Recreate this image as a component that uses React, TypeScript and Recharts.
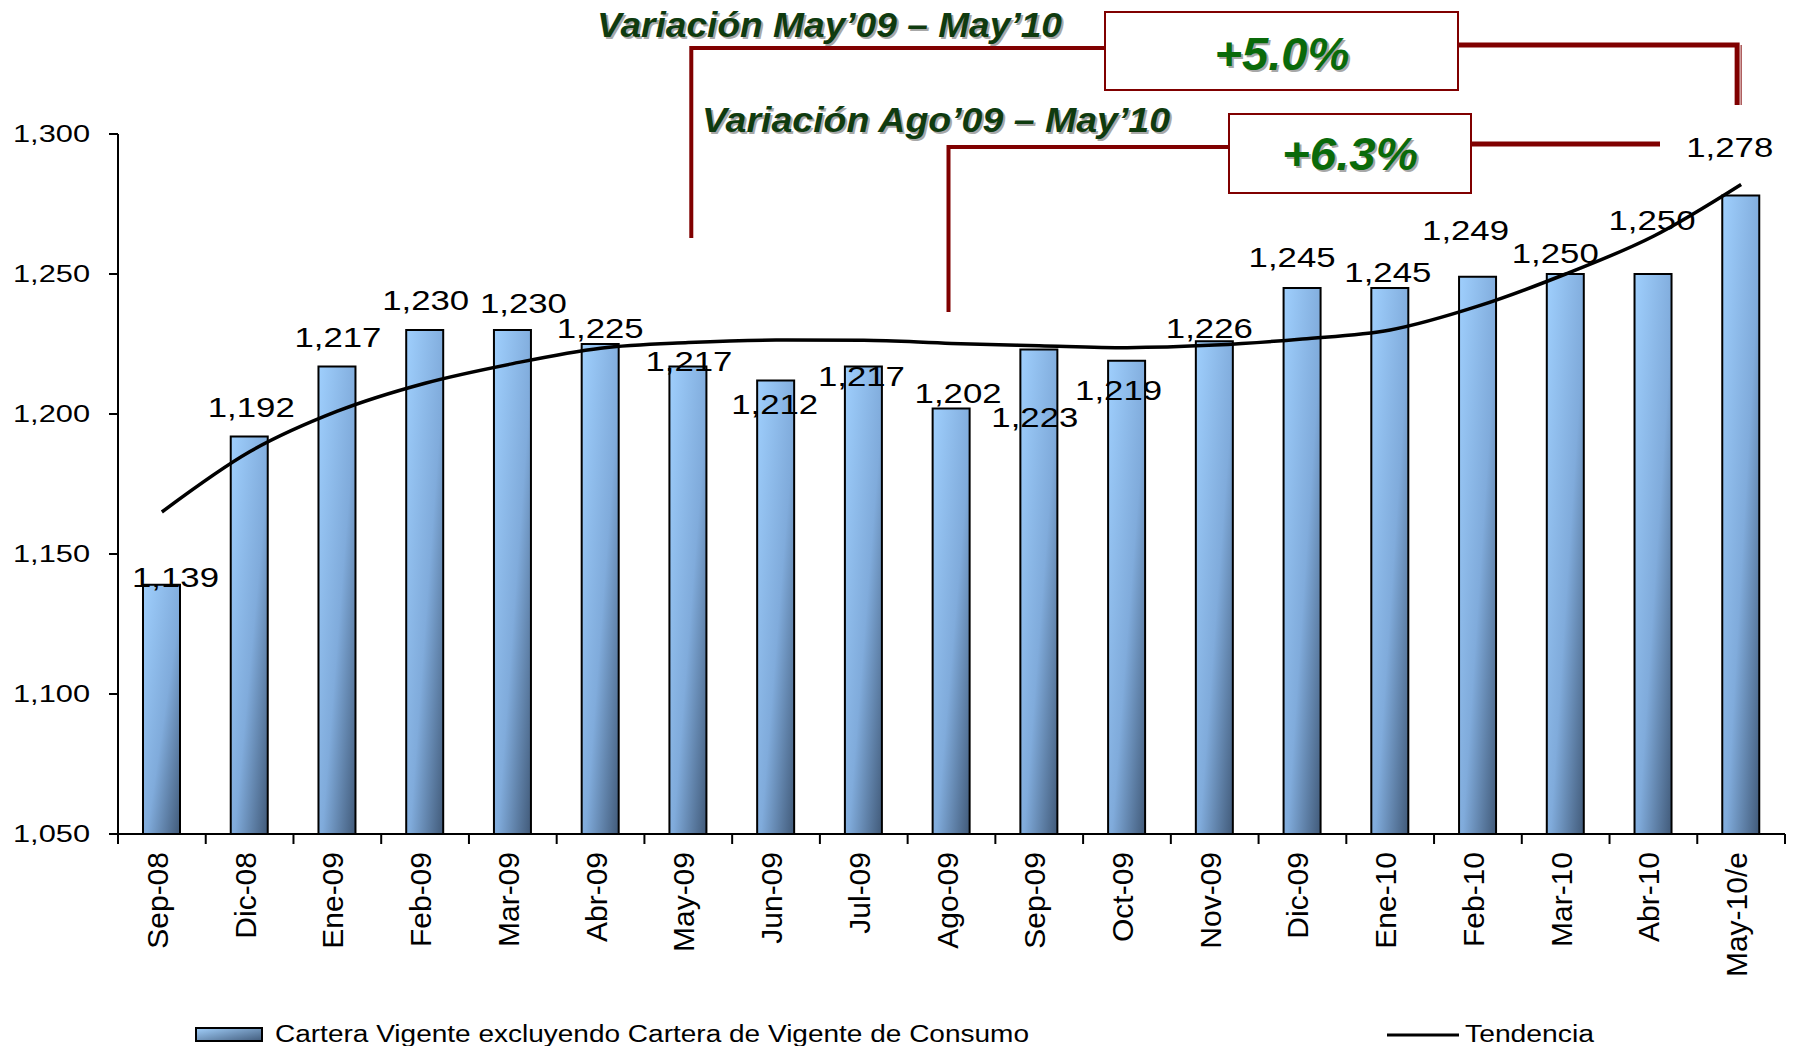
import { ComposedChart, Bar, Line, XAxis, YAxis, Legend, LabelList } from 'recharts';

const categories = ['Sep-08', 'Dic-08', 'Ene-09', 'Feb-09', 'Mar-09', 'Abr-09', 'May-09', 'Jun-09', 'Jul-09', 'Ago-09', 'Sep-09', 'Oct-09', 'Nov-09', 'Dic-09', 'Ene-10', 'Feb-10', 'Mar-10', 'Abr-10', 'May-10/e'];
const cartera = [1139, 1192, 1217, 1230, 1230, 1225, 1217, 1212, 1217, 1202, 1223, 1219, 1226, 1245, 1245, 1249, 1250, 1250, 1278];
const tendencia = [1165, 1186.5, 1201, 1211, 1218, 1223.5, 1225.5, 1226.4, 1226.3, 1225.2, 1224.4, 1223.7, 1224.6, 1226.8, 1230, 1238.5, 1250, 1263.5, 1282];
const yTicks = [1050, 1100, 1150, 1200, 1250, 1300];

// label nudges (px) relative to the top of each bar, as placed in the original slide
const labelDx = [14, 2, 1, 1, 11, 0, 1, -1, -2, 7, -4, -8, -5, -10, -2, -12, -10, -1, -11];
const labelDy = [-8, -29, -29, -30, -27, -16, -5, 24, 10, -15, 67, 29, -13, -31, -16, -47, -21, -54, -49];

const data = categories.map((name, i) => ({ name, cartera: cartera[i], tendencia: tendencia[i] }));

const W = 1798;
const H = 1046;
const MARGIN = { top: 134, right: 13, left: 0, bottom: 0 };
const Y_AXIS_W = 118;
const LEGEND_H = 46;
const PLOT_H = 700;
const X_AXIS_H = H - MARGIN.top - PLOT_H - LEGEND_H;
const PLOT_L = MARGIN.left + Y_AXIS_W;
const PLOT_W = W - PLOT_L - MARGIN.right;
const BAND = PLOT_W / categories.length;
const Y_MIN = 1050;
const Y_MAX = 1300;

const FONT = '"Liberation Sans", Arial, sans-serif';
const NARROW = '"Liberation Sans Narrow", "Arial Narrow", "Liberation Sans", Arial, sans-serif';
const DARK_RED = '#800000';

const cx = (i: number) => PLOT_L + (i + 0.5) * BAND;
const yOf = (v: number) => MARGIN.top + ((Y_MAX - v) / (Y_MAX - Y_MIN)) * PLOT_H;

const fmt = (v: number) => v.toLocaleString('en-US');

const YTick = ({ x, y, payload }: any) => (
  <text x={x} y={y} textAnchor="end" dominantBaseline="central" fontFamily={FONT} fontSize={23} fill="#000" textLength={77} lengthAdjust="spacingAndGlyphs">
    {fmt(payload.value)}
  </text>
);

const XTick = ({ x, y, payload, index }: any) => {
  const half = BAND / 2;
  return (
    <g>
      <line x1={x - half} y1={y} x2={x - half} y2={y + 10} stroke="#000" strokeWidth={2} />
      {index === categories.length - 1 && <line x1={x + half} y1={y} x2={x + half} y2={y + 10} stroke="#000" strokeWidth={2} />}
      <text transform={`translate(${x + 6},${y + 18}) rotate(-90)`} textAnchor="end" fontFamily={FONT} fontSize={30} fill="#000">
        {payload.value}
      </text>
    </g>
  );
};

const BarLabel = (props: any) => {
  const { x, y, width, index, value } = props;
  const px = x + width / 2 + labelDx[index];
  const py = y + labelDy[index] + 10;
  return (
    <text x={px} y={py} textAnchor="middle" fontFamily={FONT} fontSize={28} fill="#000" textLength={87} lengthAdjust="spacingAndGlyphs">
      {fmt(value)}
    </text>
  );
};

const renderLegend = () => (
  <svg width={W} height={LEGEND_H} style={{ display: 'block' }}>
    <defs>
      <linearGradient id="legendGrad" x1="0" y1="0" x2="1" y2="1">
        <stop offset="0%" stopColor="#a2d0fc" />
        <stop offset="100%" stopColor="#415b7b" />
      </linearGradient>
    </defs>
    <rect x={196} y={28} width={66} height={13} fill="url(#legendGrad)" stroke="#000" strokeWidth={2} />
    <text x={275} y={42} fontFamily={FONT} fontSize={23} fill="#000" textLength={754} lengthAdjust="spacingAndGlyphs">
      Cartera Vigente excluyendo Cartera de Vigente de Consumo
    </text>
    <line x1={1387} y1={35} x2={1459} y2={35} stroke="#000" strokeWidth={3} />
    <text x={1465} y={42} fontFamily={FONT} fontSize={23} fill="#000" textLength={129} lengthAdjust="spacingAndGlyphs">
      Tendencia
    </text>
  </svg>
);

const ShadowText = ({ x, y, size, width, fill, family, anchor, children }: any) => (
  <g fontFamily={family} fontSize={size} fontWeight="bold" fontStyle="italic" textAnchor={anchor}>
    <text x={x + 2} y={y + 2} fill="#a8a8a8" textLength={width} lengthAdjust="spacingAndGlyphs">{children}</text>
    <text x={x} y={y} fill={fill} textLength={width} lengthAdjust="spacingAndGlyphs">{children}</text>
  </g>
);

const Annotations = () => {
  const xMay09 = cx(6) + 3;
  const xAgo09 = cx(9) - 3;
  const xMay10 = cx(18) - 4;
  return (
    <svg width={W} height={H} style={{ position: 'absolute', left: 0, top: 0, pointerEvents: 'none' }}>
      {/* May'09 - May'10 */}
      <polyline points={`${xMay09},${yOf(1262.9)} ${xMay09},48 1105,48`} fill="none" stroke={DARK_RED} strokeWidth={4} />
      <polyline points={`1458,45 ${xMay10},45 ${xMay10},105`} fill="none" stroke={DARK_RED} strokeWidth={5} />
      <line x1={xMay10 + 4} y1={45} x2={xMay10 + 4} y2={105} stroke={DARK_RED} strokeWidth={1} />
      <rect x={1105} y={12} width={353} height={78} fill="#fff" stroke={DARK_RED} strokeWidth={2} />
      <ShadowText x={597} y={37} size={35} width={465} fill="#0f3b0f" family={NARROW} anchor="start">
        Variación May’09 – May’10
      </ShadowText>
      <ShadowText x={1282} y={70} size={47} width={135} fill="#0a6a0a" family={FONT} anchor="middle">
        +5.0%
      </ShadowText>

      {/* Ago'09 - May'10 */}
      <polyline points={`${xAgo09},${yOf(1236.4)} ${xAgo09},147 1229,147`} fill="none" stroke={DARK_RED} strokeWidth={4} />
      <line x1={1471} y1={144} x2={1660} y2={144} stroke={DARK_RED} strokeWidth={5} />
      <rect x={1229} y={114} width={242} height={79} fill="#fff" stroke={DARK_RED} strokeWidth={2} />
      <ShadowText x={702} y={132} size={35} width={468} fill="#0f3b0f" family={NARROW} anchor="start">
        Variación Ago’09 – May’10
      </ShadowText>
      <ShadowText x={1350} y={170} size={47} width={136} fill="#0a6a0a" family={FONT} anchor="middle">
        +6.3%
      </ShadowText>
    </svg>
  );
};

export default function App() {
  return (
    <div style={{ position: 'absolute', left: 0, top: 0, width: W, height: H, background: '#fff' }}>
      <ComposedChart width={W} height={H} data={data} margin={MARGIN}>
        <defs>
          <linearGradient id="barGrad" x1="0" y1="0" x2="1" y2="1">
            <stop offset="0%" stopColor="#9fcffd" />
            <stop offset="55%" stopColor="#80abdb" />
            <stop offset="100%" stopColor="#415a79" />
          </linearGradient>
        </defs>
        <XAxis
          dataKey="name"
          interval={0}
          height={X_AXIS_H}
          tickSize={0}
          tickMargin={0}
          tickLine={false}
          axisLine={{ stroke: '#000', strokeWidth: 2 }}
          tick={<XTick />}
        />
        <YAxis
          width={Y_AXIS_W}
          domain={[Y_MIN, Y_MAX]}
          ticks={yTicks}
          interval={0}
          tickSize={9}
          tickMargin={19}
          tickLine={{ stroke: '#000', strokeWidth: 2 }}
          axisLine={{ stroke: '#000', strokeWidth: 2 }}
          tick={<YTick />}
        />
        <Legend verticalAlign="bottom" height={LEGEND_H} content={renderLegend} wrapperStyle={{ left: 0, bottom: 0, width: W }} />
        <Bar dataKey="cartera" barSize={37} fill="url(#barGrad)" stroke="#000" strokeWidth={2} isAnimationActive={false}>
          <LabelList dataKey="cartera" content={<BarLabel />} />
        </Bar>
        <Line dataKey="tendencia" type="monotone" stroke="#000" strokeWidth={3.5} dot={false} activeDot={false} isAnimationActive={false} />
      </ComposedChart>
      <Annotations />
    </div>
  );
}
